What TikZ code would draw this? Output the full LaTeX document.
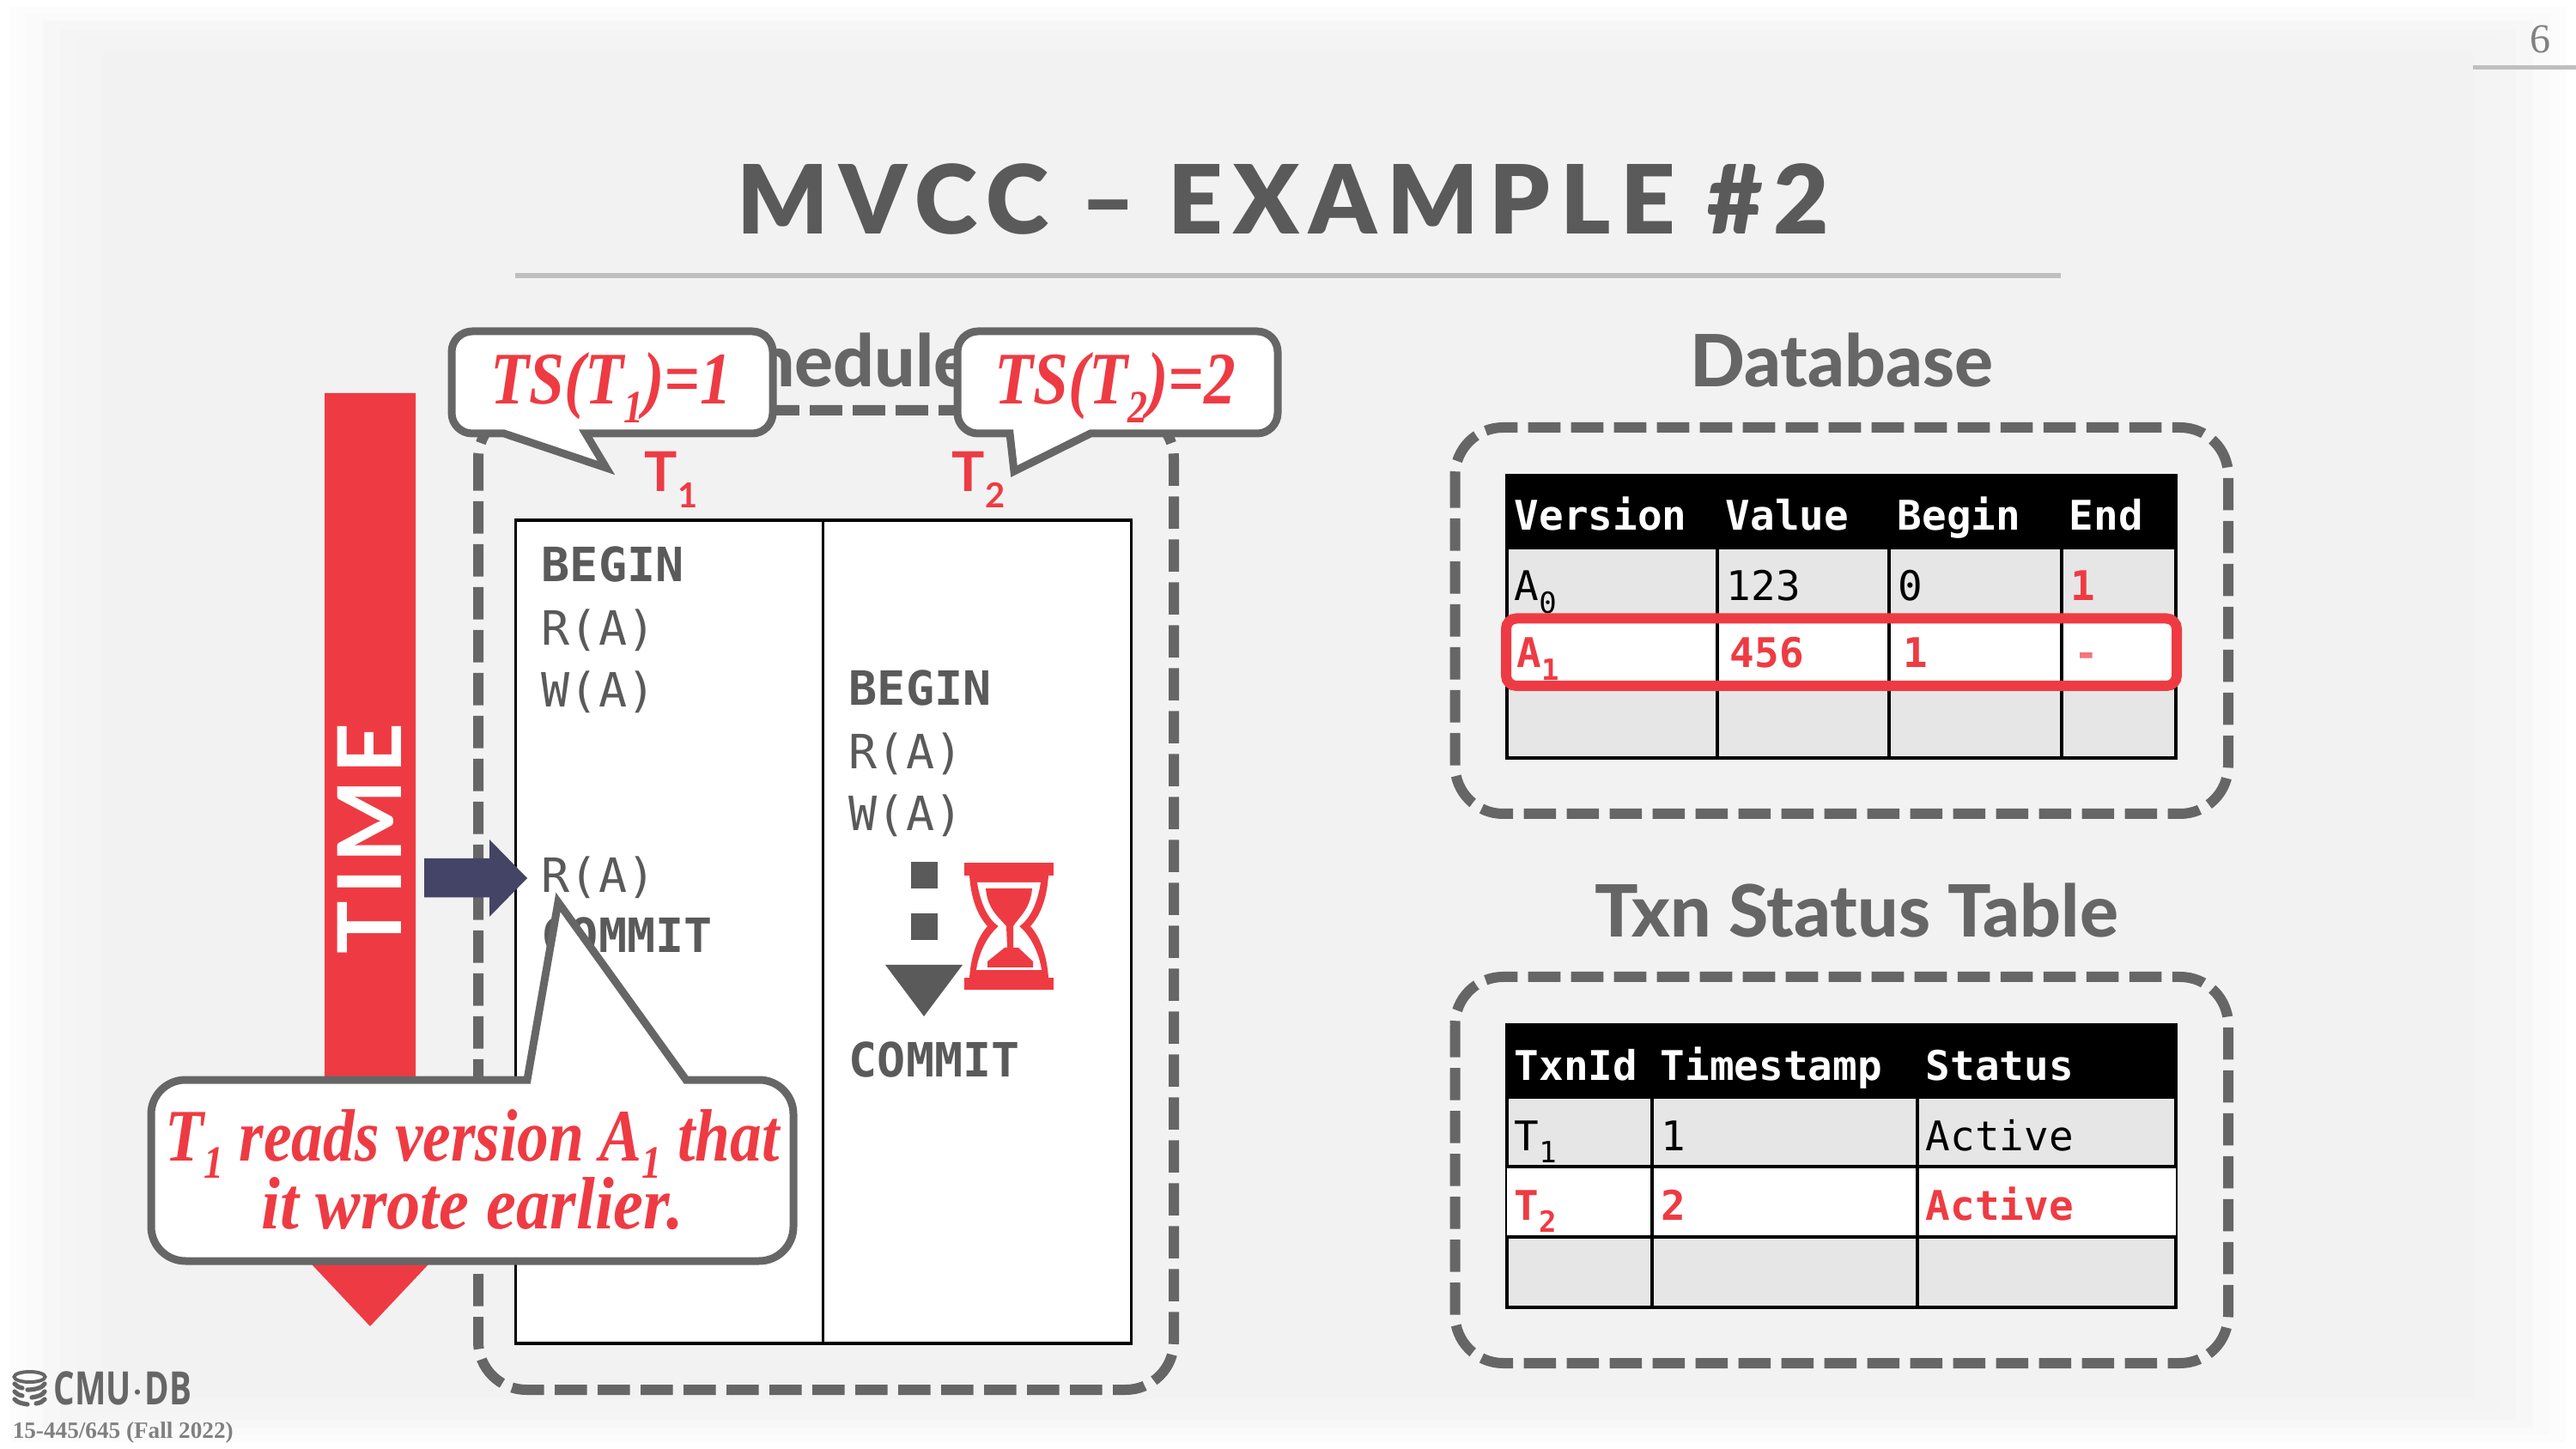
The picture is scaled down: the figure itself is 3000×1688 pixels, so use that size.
\documentclass[tikz,border=0pt]{standalone}
\usepackage{fontspec}
\setmainfont{Liberation Serif}
\newfontfamily\latofont{Lato}
\newfontfamily\headfont{Lato Heavy}
\newfontfamily\titlefont[LetterSpace=10.7]{Lato Black}
\newfontfamily\timefont[LetterSpace=6.5]{Lato}
\newfontfamily\codefont{DejaVu Sans Mono}
\newfontfamily\slantfont[FakeStretch=0.85]{Liberation Serif}
\newfontfamily\slantwidefont[FakeStretch=0.91]{Liberation Serif}
\newfontfamily\logofont[FakeStretch=0.72]{Open Sans}
\definecolor{redmark}{HTML}{EE3B43}
\definecolor{boxgray}{HTML}{666666}
\definecolor{textgray}{HTML}{5A5A5A}
\definecolor{rulegray}{HTML}{BFBFBF}
\definecolor{cellgray}{HTML}{E6E6E6}
\definecolor{navyarrow}{HTML}{444466}
\newcommand{\subdigit}[3]{\raisebox{-#1}{\fontsize{#2}{#2}\selectfont #3}}
\tikzset{
  every node/.style={inner sep=0pt},
  dashbox/.style={draw=boxgray,line width=3pt,rounded corners=14pt,dash pattern=on 9.4pt off 3.1pt},
  callout/.style={draw=boxgray,fill=white,line width=2.25pt,line join=miter},
  gridline/.style={draw=black,line width=1pt},
  heading/.style={font=\headfont\fontsize{21}{21}\selectfont,text=boxgray,anchor=base},
  code/.style={font=\codefont\fontsize{13.75}{13.75}\selectfont,text=textgray,anchor=base west},
  codebold/.style={code,font=\codefont\bfseries\fontsize{13.75}{13.75}\selectfont},
  thead/.style={font=\codefont\bfseries\fontsize{11.9}{11.9}\selectfont,text=white,anchor=base west},
  tcell/.style={font=\codefont\fontsize{11.9}{11.9}\selectfont,text=black,anchor=base west},
  tred/.style={font=\codefont\bfseries\fontsize{11.9}{11.9}\selectfont,text=redmark,anchor=base west},
  saying/.style={font=\slantfont\bfseries\itshape\fontsize{21.6}{21.6}\selectfont,text=redmark,anchor=base},
  txnname/.style={font=\latofont\bfseries\fontsize{16}{16}\selectfont,text=redmark,anchor=base west}
}
\begin{document}
\begin{tikzpicture}[x=0.25pt,y=-0.25pt]
    \useasboundingbox (0,0) rectangle (3000,1688);
    % paper with its pale border
    \fill[white] (0,0) rectangle (3000,1688);
    \fill[black!1] (12,8) rectangle (2988,1680);
    \fill[black!2] (30,16) rectangle (2970,1672);
    \fill[black!3] (50,24) rectangle (2950,1664);
    \fill[black!4] (70,34) rectangle (2930,1654);
    \fill[black!4.5] (90,44) rectangle (2910,1644);
    \fill[black!5] (120,60) rectangle (2880,1630);

    % title
    \node[anchor=base,font=\titlefont\fontsize{27.8}{27.8}\selectfont,text=textgray] (title) at (1494,273) {MVCC – EXAMPLE \#2};
    \draw[rulegray,line width=1.5pt] (600,321.5) -- (2400,321.5);
    \node[anchor=base,font=\fontsize{12}{12}\selectfont,text=black!50] (pagenum) at (2958,62) {6};
    \draw[rulegray,line width=1.25pt] (2880,79) -- (3000,79);

    % time bar
    \fill[redmark] (378,458) -- (484,458) -- (484,1440) -- (530,1440) -- (431,1545) -- (332,1440) -- (378,1440) -- cycle;
    \node[rotate=90,anchor=center,font=\timefont\bfseries\fontsize{25.7}{25.7}\selectfont,text=white] (timelabel) at (430,977) {TIME};

    % schedule
    \draw[dashbox] (557,478) rectangle (1367,1619);
    \node[heading] (schedtitle) at (962,451) {Schedule};
    \filldraw[fill=white,draw=black,line width=0.9pt] (600.5,606) rectangle (1317.5,1565);
    \draw[black,line width=0.75pt] (958,606) -- (958,1565);
    \node[txnname] (txnone) at (750,573) {T\subdigit{4.75pt}{10}{1}};
    \node[txnname] (txntwo) at (1108,573) {T\subdigit{4.75pt}{10}{2}};

    \node[codebold] (beginone) at (630,678) {BEGIN};
    \node[code] (readone) at (630,752) {R(A)};
    \node[code] (writeone) at (630,824) {W(A)};
    \node[code] (readagain) at (630,1040) {R(A)};
    \node[codebold] (commitone) at (630,1110) {COMMIT};
    \node[codebold] (begintwo) at (988,822) {BEGIN};
    \node[code] (readtwo) at (988,896) {R(A)};
    \node[code] (writetwo) at (988,968) {W(A)};
    \node[codebold] (committwo) at (988,1254) {COMMIT};

    % waiting dots and hourglass
    \fill[textgray] (1061,1004) rectangle (1092,1035);
    \fill[textgray] (1061,1064) rectangle (1092,1095);
    \fill[textgray] (1031,1124) -- (1121,1124) -- (1076,1184) -- cycle;
    \fill[redmark] (1123,1005.5) rectangle (1227,1020);
    \fill[redmark] (1123,1139) rectangle (1227,1153);
    \fill[redmark] (1129,1020) .. controls (1131,1050) and (1140,1068) .. (1150,1079) .. controls (1140,1090) and (1131,1110) .. (1129,1139) -- (1221,1139) .. controls (1219,1110) and (1210,1090) .. (1200,1079) .. controls (1210,1068) and (1219,1050) .. (1221,1020) -- cycle;
    \fill[white] (1138,1028) .. controls (1142,1052) and (1150,1070) .. (1163,1079) .. controls (1150,1090) and (1140,1110) .. (1137,1130) -- (1213,1130) .. controls (1210,1110) and (1200,1090) .. (1187,1079) .. controls (1200,1070) and (1208,1052) .. (1212,1028) -- cycle;
    \fill[redmark] (1148,1035) -- (1202,1035) .. controls (1200,1060) and (1185,1070) .. (1180,1079) -- (1180,1104) -- (1186,1104) -- (1203,1120) -- (1203,1127) -- (1150,1127) -- (1150,1120) -- (1170,1104) -- (1173,1104) -- (1172,1079) .. controls (1165,1070) and (1150,1060) .. (1148,1035) -- cycle;

    % arrow at the read
    \fill[navyarrow] (494,1000) -- (570,1000) -- (570,978) -- (614,1023) -- (570,1068) -- (570,1045.5) -- (494,1045.5) -- cycle;

    % callouts
    \draw[callout] (682,505) [rounded corners=6pt] -- (900,505) -- (900,386) -- (526,386) -- (526,505) [sharp corners] -- (587,505) -- (706,545) -- cycle;
    \node[saying] (tsone) at (712,471) {TS(T\subdigit{5.5pt}{13.5}{1})=1};
    \draw[callout] (1176,505) [rounded corners=6pt] -- (1115,505) -- (1115,386) -- (1488,386) -- (1488,505) [sharp corners] -- (1270,505) -- (1181,549) -- cycle;
    \node[saying] (tstwo) at (1299,471) {TS(T\subdigit{5.5pt}{13.5}{2})=2};
    \draw[callout] (614,1258) [rounded corners=10pt] -- (176,1258) -- (176,1469) -- (924,1469) -- (924,1258) [sharp corners] -- (799,1258) -- (650,1051) -- cycle;
    \node[saying] (noteone) at (550,1352) {T\subdigit{5pt}{13.5}{1} reads version A\subdigit{5pt}{13.5}{1} that};
    \node[saying,font=\slantwidefont\bfseries\itshape\fontsize{21.6}{21.6}\selectfont] (notetwo) at (550,1431) {it wrote earlier.};

    % database table
    \node[heading] (dbtitle) at (2145,451) {Database};
    \draw[dashbox] (1694.5,498) rectangle (2595,948);
    \fill[black] (1753,552) rectangle (2536,638);
    \filldraw[gridline,fill=cellgray] (1755,638) rectangle (2534,883);
    \fill[white] (1755,719) rectangle (2534,801);
    \draw[gridline] (1755,719) -- (2534,719);
    \draw[gridline] (1755,801) -- (2534,801);
    \draw[gridline] (2000,638) -- (2000,883);
    \draw[gridline] (2200,638) -- (2200,883);
    \draw[gridline] (2400.5,638) -- (2400.5,883);
    \node[thead] (dbversion) at (1763,618) {Version};
    \node[thead] (dbvalue) at (2009,618) {Value};
    \node[thead] (dbbegin) at (2209,618) {Begin};
    \node[thead] (dbend) at (2409,618) {End};
    \node[tcell] (azero) at (1763,700) {A\subdigit{3.7pt}{8.5}{0}};
    \node[tcell] (azeroval) at (2010,700) {123};
    \node[tcell] (azerobegin) at (2210,700) {0};
    \node[tred] (azeroend) at (2411,700) {1};
    \node[tred] (aone) at (1766,778) {A\subdigit{3.7pt}{8.5}{1}};
    \node[tred] (aoneval) at (2014,778) {456};
    \node[tred] (aonebegin) at (2216,778) {1};
    \node[tred,opacity=0.7] (aoneend) at (2415,778) {-};
    \draw[redmark,line width=3pt,rounded corners=3pt] (1754,720.5) rectangle (2535,799);

    % status table
    \node[heading] (statustitle) at (2162,1091) {Txn Status Table};
    \draw[dashbox] (1694.5,1138) rectangle (2595,1588);
    \fill[black] (1753,1192) rectangle (2536,1278);
    \filldraw[gridline,fill=cellgray] (1755,1278) rectangle (2534,1523);
    \fill[white] (1755,1359) rectangle (2534,1441);
    \draw[gridline] (1755,1359) -- (2534,1359);
    \draw[gridline] (1755,1441) -- (2534,1441);
    \draw[gridline] (1924,1278) -- (1924,1523);
    \draw[gridline] (2233,1278) -- (2233,1523);
    \node[thead] (txnid) at (1763,1258) {TxnId};
    \node[thead] (txnstamp) at (1933,1258) {Timestamp};
    \node[thead] (txnstatus) at (2242,1258) {Status};
    \node[tcell] (rowone) at (1763,1340) {T\subdigit{3.7pt}{8.5}{1}};
    \node[tcell] (rowonestamp) at (1934,1340) {1};
    \node[tcell] (rowonestatus) at (2242,1340) {Active};
    \node[tred] (rowtwo) at (1763,1421) {T\subdigit{3.7pt}{8.5}{2}};
    \node[tred] (rowtwostamp) at (1934,1421) {2};
    \node[tred] (rowtwostatus) at (2242,1421) {Active};

    % logo
    \draw[boxgray,line width=1pt] (34.5,1604) ellipse (18 and 6);
    \draw[boxgray,line width=1.3pt,line cap=round] (17,1612) .. controls (19,1615) and (22,1616) .. (26,1617);
    \draw[boxgray,line width=1.3pt,line cap=round] (32,1619) .. controls (42,1619) and (50,1616) .. (52,1612);
    \draw[boxgray,line width=1.3pt,line cap=round] (17,1621) .. controls (19,1624) and (22,1625) .. (26,1626);
    \draw[boxgray,line width=1.3pt,line cap=round] (37,1628) .. controls (44,1627) and (50,1625) .. (52,1621);
    \draw[boxgray,line width=1.3pt,line cap=round] (17,1630) .. controls (20,1634) and (26,1635) .. (32,1636);
    \draw[boxgray,line width=1.3pt,line cap=round] (42,1635) .. controls (47,1634) and (50,1633) .. (52,1630);
    \node[anchor=base west,font=\logofont\bfseries\fontsize{13.4}{13.4}\selectfont,text=boxgray] (logotext) at (62,1636) {CMU$\cdot$DB};
    \node[anchor=base west,font=\bfseries\fontsize{6.8}{6.8}\selectfont,text=black!50] (course) at (14,1675) {15-445/645 (Fall 2022)};
\end{tikzpicture}
\end{document}
